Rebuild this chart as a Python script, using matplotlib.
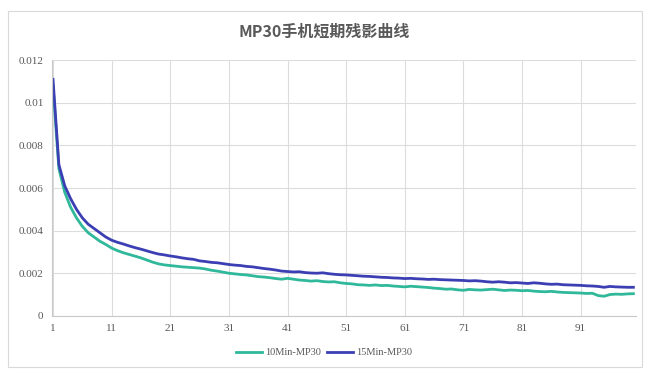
import matplotlib.pyplot as plt
from matplotlib.patches import Rectangle

# ******************** DATA ********************
title = 'MP30手机短期残影曲线'
series_names = ['10Min-MP30', '15Min-MP30']

minutes = list(range(1, 101))

mp30_10min = [
    0.0108, 0.0069, 0.0058, 0.0051, 0.0046, 0.0042, 0.0039, 0.0037, 0.0035, 0.00335,
    0.00318, 0.00306, 0.00296, 0.00288, 0.00280, 0.00272, 0.00262, 0.00252, 0.00244, 0.00239,
    0.00236, 0.00233, 0.00230, 0.00228, 0.00226, 0.00224, 0.00220, 0.00214, 0.00210, 0.00205,
    0.00200, 0.00197, 0.00194, 0.00192, 0.00188, 0.00184, 0.00182, 0.00179, 0.00175, 0.00172,
    0.00176, 0.00172, 0.00168, 0.00166, 0.00163, 0.00165, 0.00161, 0.00159, 0.00160, 0.00155,
    0.00152, 0.00150, 0.00146, 0.00145, 0.00143, 0.00145, 0.00142, 0.00143, 0.00140, 0.00138,
    0.00136, 0.00139, 0.00137, 0.00135, 0.00133, 0.00130, 0.00128, 0.00125, 0.00126, 0.00122,
    0.00120, 0.00124, 0.00122, 0.00121, 0.00123, 0.00125, 0.00122, 0.00119, 0.00121, 0.00120,
    0.00118, 0.00119, 0.00116, 0.00114, 0.00113, 0.00115, 0.00112, 0.00110, 0.00109, 0.00108,
    0.00107, 0.00105, 0.00106, 0.00095, 0.00092, 0.00100, 0.00102, 0.00101, 0.00103, 0.00104,
]

mp30_15min = [
    0.0111, 0.0071, 0.0061, 0.0055, 0.0050, 0.0046, 0.0043, 0.0041, 0.0039, 0.0037,
    0.00355, 0.00345, 0.00337, 0.00328, 0.00320, 0.00313, 0.00305, 0.00297, 0.00290, 0.00286,
    0.00281, 0.00277, 0.00272, 0.00268, 0.00265, 0.00258, 0.00255, 0.00251, 0.00249, 0.00245,
    0.00241, 0.00238, 0.00236, 0.00232, 0.00230, 0.00226, 0.00222, 0.00219, 0.00215, 0.00210,
    0.00208, 0.00206, 0.00207, 0.00203, 0.00201, 0.00200, 0.00202, 0.00198, 0.00195, 0.00193,
    0.00192, 0.00190, 0.00188, 0.00186, 0.00185, 0.00183, 0.00181, 0.00180, 0.00178, 0.00177,
    0.00175, 0.00176, 0.00174, 0.00173, 0.00171, 0.00172, 0.00170, 0.00169, 0.00168, 0.00167,
    0.00166, 0.00164, 0.00165, 0.00163, 0.00160, 0.00158, 0.00160, 0.00158, 0.00155, 0.00156,
    0.00154, 0.00152, 0.00155, 0.00153, 0.00150, 0.00148, 0.00149, 0.00146, 0.00145, 0.00144,
    0.00143, 0.00141, 0.00140, 0.00138, 0.00134, 0.00138, 0.00136, 0.00135, 0.00134, 0.00134,
]

x_ticks = [1, 11, 21, 31, 41, 51, 61, 71, 81, 91]
y_ticks = [0, 0.002, 0.004, 0.006, 0.008, 0.01, 0.012]
y_tick_labels = ['0', '0.002', '0.004', '0.006', '0.008', '0.01', '0.012']

# ******************** STYLE ********************
green = '#2fb89a'
blue = '#3b3fb3'
grid_color = '#dcdcdc'
text_color = '#595959'
tick_font = 'Liberation Serif'

# ******************** PLOT ********************
fig = plt.figure(figsize=(6.48, 3.76), dpi=100)
fig.patch.set_facecolor('white')
fig.patches.append(Rectangle((0.012, 0.025), 0.978, 0.945, transform=fig.transFigure,
                             fill=False, edgecolor='#d9d9d9', linewidth=0.8))

ax = fig.add_axes([0.080, 0.160, 0.902, 0.680])
ax.plot(minutes, mp30_10min, color=green, linewidth=2.0, label=series_names[0])
ax.plot(minutes, mp30_15min, color=blue, linewidth=2.0, label=series_names[1])

ax.set_xlim(0.8, 100.5)
ax.set_ylim(0, 0.012)
ax.set_xticks(x_ticks)
ax.set_xticklabels([str(t) for t in x_ticks], fontfamily=tick_font, fontsize=8, color=text_color)
ax.set_yticks(y_ticks)
ax.set_yticklabels(y_tick_labels, fontfamily=tick_font, fontsize=8, color=text_color)
ax.tick_params(length=0, pad=6)

ax.grid(True, color=grid_color, linewidth=0.8)
ax.set_axisbelow(True)
for side in ['top', 'right']:
    ax.spines[side].set_visible(False)
ax.spines['left'].set_color('#c8c8c8')
ax.spines['bottom'].set_color('#c8c8c8')

fig.text(0.5, 0.915, title, ha='center', va='center', fontsize=11.5, fontweight='bold',
         color=text_color, family=['Noto Sans CJK SC', 'DejaVu Sans'])

fig.legend(loc='center', bbox_to_anchor=(0.5, 0.062), ncol=2, frameon=False,
           prop={'family': tick_font, 'size': 7.5}, labelcolor=text_color,
           handlelength=2.5, columnspacing=0.6, handletextpad=0.3)

fig.savefig('out.png', dpi=100)
